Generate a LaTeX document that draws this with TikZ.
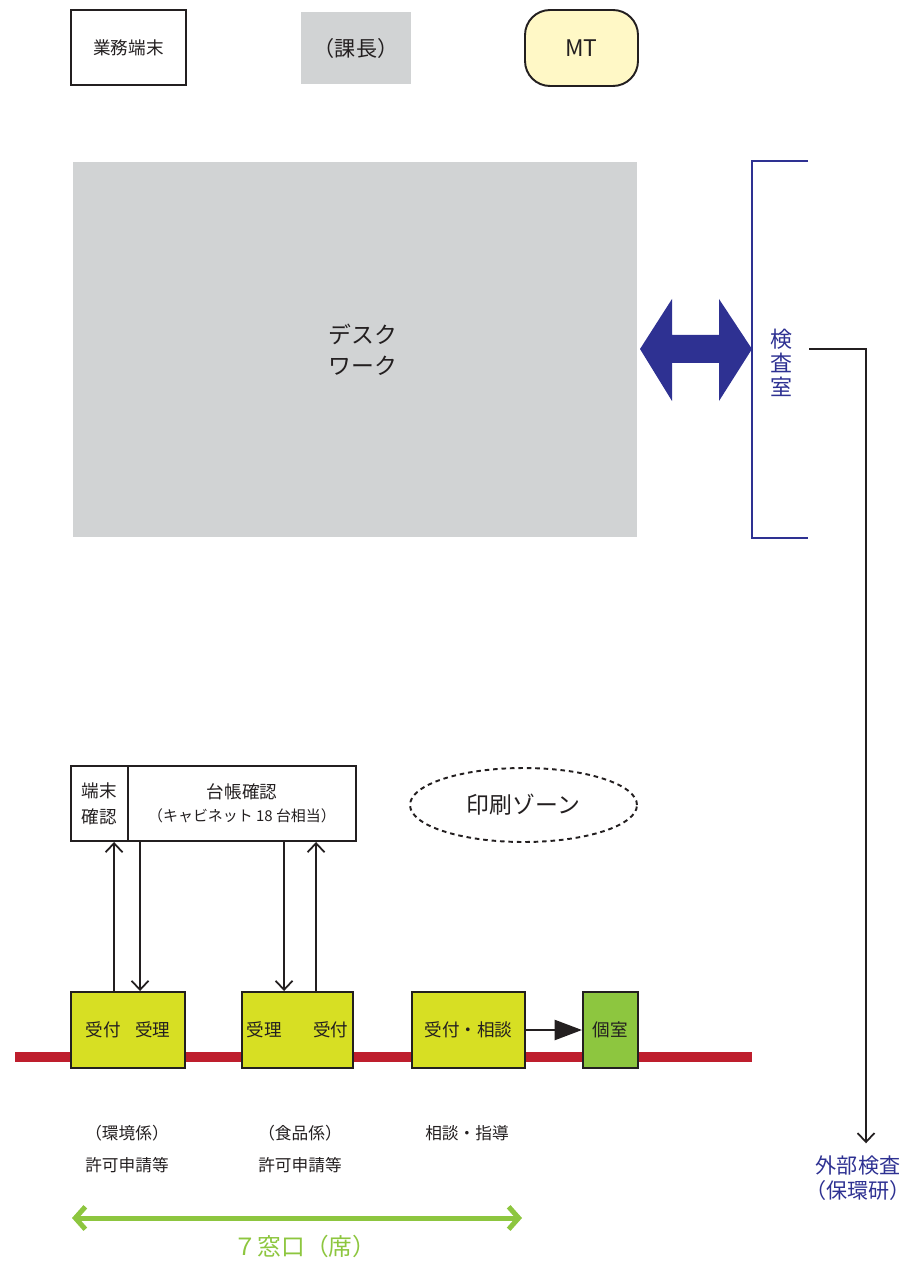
\documentclass[tikz,border=0pt]{standalone}
\usepackage{fontspec}
\setmainfont{Noto Sans CJK JP}
\usetikzlibrary{arrows.meta,shapes.geometric}

\definecolor{ink}{HTML}{231F20}
\definecolor{navy}{HTML}{2E3192}
\definecolor{deskgray}{HTML}{D1D3D4}
\definecolor{cream}{HTML}{FFF8C6}
\definecolor{lime}{HTML}{D7DF23}
\definecolor{leaf}{HTML}{8DC63F}
\definecolor{redline}{HTML}{BE1E2D}

\tikzset{
  box/.style={draw=ink, line width=1.1pt, inner sep=0pt, align=center,
    minimum height=1.5cm, text=ink, font=\fontsize{10}{15}\selectfont},
  winbox/.style={box, fill=lime, minimum height=1.52cm},
  note/.style={align=center, text=ink, font=\fontsize{9.5}{18}\selectfont},
}

\begin{document}
\begin{tikzpicture}[x=0.02cm, y=-0.02cm]
\useasboundingbox (0,0) rectangle (916,1263);

%%%%%%%%%%%%%%%%%%%%%%%%%%%%%%%%%%%%%%%%%%%%%%%%%%%%%%%%%%%%%%%%%
%%%%%%%%%%%%%%%%%%%%%%%%%%%%%%
\node [box, minimum width=2.3cm] (term) at (128.5,47.5) {業務端末};
\node [box, draw=none, fill=deskgray, minimum width=2.2cm, minimum height=1.44cm,
  font=\fontsize{12}{15}\selectfont] (chief) at (356,48) {（課長）};
\node [box, fill=cream, rounded corners=0.5cm, minimum width=2.26cm, minimum height=1.52cm,
  font=\fontsize{13}{15}\selectfont] (mt) at (581.5,48) {MT};

\node [box, draw=none, fill=deskgray, minimum width=11.28cm, minimum height=7.5cm,
  font=\fontsize{13}{17.5}\selectfont] (desk) at (355,349.5)
  {\hspace*{0.32cm}デスク\\\hspace*{0.32cm}ワーク};

% inspection room
\draw [navy, line width=1.1pt] (808,161) -- (752,161) -- (752,538) -- (808,538);
\node [text=navy, align=center, font=\fontsize{12.5}{13.5}\selectfont] (lab) at (781,363) {検\\査\\室};
\fill [navy] (640,349) -- (672,299) -- (672,335) -- (719,335) -- (719,299) -- (752,349)
  -- (719,401) -- (719,363) -- (672,363) -- (672,401) -- cycle;

\node [text=navy, align=center, inner sep=1pt, font=\fontsize{12}{14.5}\selectfont] (ext) at (858,1178) {外部検査\\（保環研）};
\coordinate (kout) at (809,349);
\coordinate (extin) at ([xshift=0.16cm, yshift=0.2cm]ext.north);
\draw [-{Straight Barb[length=1.8mm,width=3.4mm]}, ink, line width=1pt] (kout) -| (extin);


%%%%%%%%%%%%%%%%%%%%%%%%%%%%%%%%%%%%%%%%%%%%%%%%%%%%%%%%%%%%%%%%%
\node [box, minimum width=1.14cm] (side) at (99.5,803.5) {端末\\確認};
\node [box, minimum width=4.56cm] (ledger) at (242,803.5)
  {台帳確認\\[-2pt]{\fontsize{8.5}{10}\selectfont （キャビネット 18 台相当）}};
\node [draw=ink, dashed, dash pattern=on 2.6pt off 2.2pt, line width=1.1pt, ellipse,
  minimum width=4.54cm, minimum height=1.48cm, inner sep=0pt, text=ink,
  font=\fontsize{13}{15}\selectfont] (print) at (523.5,805) {印刷ゾーン};

\draw [redline, line width=0.2cm] (15,1057) -- (752,1057);

\node [winbox, minimum width=2.28cm] (win1) at (128,1030) {受付\hspace{0.8em}受理};
\node [winbox, minimum width=2.22cm] (win2) at (297.5,1030) {受理\hspace{1.8em}受付};
\node [winbox, minimum width=2.26cm] (win3) at (468.5,1030) {受付・相談};
\node [winbox, fill=leaf, minimum width=1.1cm] (room) at (610.5,1030) {個室};
\draw [-{Triangle[length=5.5mm,width=4mm]}, ink, line width=1.5pt] (win3.east) -- (room.west);

\coordinate (u1) at ([xshift=0.88cm]win1.north west);
\coordinate (d1) at ([xshift=1.4cm]win1.north west);
\coordinate (d2) at ([xshift=0.86cm]win2.north west);
\coordinate (u2) at ([xshift=1.5cm]win2.north west);
\draw [-{Straight Barb[length=1.8mm,width=3.4mm]}, ink, line width=1pt] (u1) -- (u1 |- side.south);
\draw [-{Straight Barb[length=1.8mm,width=3.4mm]}, ink, line width=1pt] (d1 |- ledger.south) -- (d1);
\draw [-{Straight Barb[length=1.8mm,width=3.4mm]}, ink, line width=1pt] (d2 |- ledger.south) -- (d2);
\draw [-{Straight Barb[length=1.8mm,width=3.4mm]}, ink, line width=1pt] (u2) -- (u2 |- ledger.south);

\node [note] (env) at (127,1149) {（環境係）\\許可申請等};
\node [note] (food) at (300,1149) {（食品係）\\許可申請等};
\node [note] (talk) at (467,1133) {相談・指導};

\coordinate (wl) at (72,1218);
\coordinate (wr) at (522,1218);
\draw [{Straight Barb[length=2mm,width=4.5mm]}-{Straight Barb[length=2mm,width=4.5mm]}, leaf, line width=1mm] (wl) -- (wr);
\node [text=leaf, font=\fontsize{13.5}{15}\selectfont] (seats) at (305,1246) {７窓口（席）};

%%%%%%%%%%%%%%%%%%%%%%%%%%%%%%%%%%%%%%%%%%%%%%%%%%%%%%%%%%%%%%%%%

\end{tikzpicture}
\end{document}
